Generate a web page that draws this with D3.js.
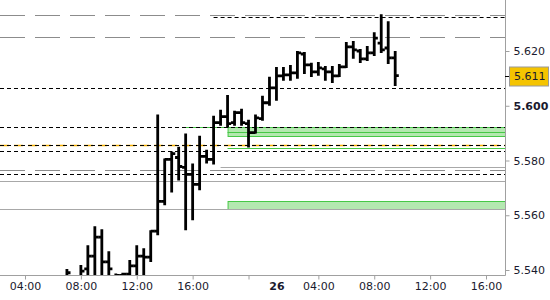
<!DOCTYPE html>
<html>
<head>
<meta charset="utf-8">
<script src="https://cdn.jsdelivr.net/npm/d3@7"></script>
<style>
  body { margin: 0; background: #fff; }
  text { font-family: "DejaVu Sans", Verdana, sans-serif; font-size: 11px; fill: #1a1a2e; }
</style>
</head>
<body>
<svg id="chart" width="550" height="300"></svg>
<script>
// M30 bars, index 0 = 04:00 on the 25th
const barIndex = [6, 7, 8, 9, 10, 11, 12, 13, 14, 15, 16, 17, 18, 19, 20, 21, 22, 23, 24, 25, 26, 27, 28, 29,
  30, 31, 32, 33, 34, 35, 36, 37, 38, 39, 40, 41, 42, 43, 44, 45, 46, 47, 48, 49, 50, 51, 52, 53];
const opens  = [5.5360, 5.5370, 5.5360, 5.5404, 5.5451, 5.5520, 5.5430, 5.5360, 5.5380, 5.5385, 5.5415, 5.5451,
  5.5447, 5.5542, 5.5651, 5.5804, 5.5811, 5.5775, 5.5749, 5.5713, 5.5815, 5.5804, 5.5938, 5.5960,
  5.5938, 5.5975, 5.5935, 5.5902, 5.5953, 5.6011, 5.6065, 5.6109, 5.6113, 5.6120, 5.6189, 5.6149,
  5.6124, 5.6135, 5.6124, 5.6109, 5.6142, 5.6215, 5.6200, 5.6171, 5.6193, 5.6229, 5.6211, 5.6175];
const highs  = [5.5400, 5.5378, 5.5415, 5.5487, 5.5556, 5.5545, 5.5465, 5.5384, 5.5386, 5.5433, 5.5487, 5.5476,
  5.5542, 5.5964, 5.5804, 5.5829, 5.5847, 5.5895, 5.5785, 5.5887, 5.5836, 5.5960, 5.5982, 5.6036,
  5.5978, 5.5985, 5.5945, 5.5964, 5.6033, 5.6102, 5.6138, 5.6138, 5.6145, 5.6196, 5.6193, 5.6153,
  5.6156, 5.6142, 5.6142, 5.6149, 5.6229, 5.6233, 5.6204, 5.6215, 5.6265, 5.6331, 5.6305, 5.6196];
const lows   = [5.5340, 5.5340, 5.5340, 5.5330, 5.5340, 5.5360, 5.5340, 5.5330, 5.5340, 5.5360, 5.5350, 5.5380,
  5.5433, 5.5531, 5.5640, 5.5687, 5.5731, 5.5549, 5.5585, 5.5695, 5.5793, 5.5789, 5.5931, 5.5924,
  5.5931, 5.5931, 5.5851, 5.5902, 5.5949, 5.6004, 5.6022, 5.6095, 5.6095, 5.6102, 5.6120, 5.6109,
  5.6113, 5.6095, 5.6087, 5.6109, 5.6142, 5.6175, 5.6160, 5.6167, 5.6185, 5.6196, 5.6156, 5.6076];
const closes = [5.5390, 5.5350, 5.5396, 5.5451, 5.5520, 5.5430, 5.5404, 5.5380, 5.5385, 5.5415, 5.5451, 5.5447,
  5.5542, 5.5651, 5.5804, 5.5825, 5.5778, 5.5749, 5.5713, 5.5815, 5.5804, 5.5938, 5.5960, 5.5935,
  5.5975, 5.5938, 5.5902, 5.5956, 5.6011, 5.6065, 5.6109, 5.6113, 5.6120, 5.6193, 5.6149, 5.6124,
  5.6138, 5.6124, 5.6109, 5.6142, 5.6215, 5.6204, 5.6171, 5.6193, 5.6247, 5.6204, 5.6175, 5.6110];

const timeTickIndex = [0, 8, 16, 24, 32, 36, 42, 50, 58, 66];
const timeTickLabels = ["04:00", "08:00", "12:00", "16:00", "", "26", "04:00", "08:00", "12:00", "16:00"];
const priceTicks = [5.540, 5.560, 5.580, 5.600, 5.620, 5.640];
const lastPrice = 5.611;

// horizontal levels (null start = from the left edge)
const grayDashLevels = [5.6331, 5.6251, 5.5764];
const grayDashStart  = [null, null, null];
const blackDashLevels = [5.6324, 5.6065, 5.5924, 5.5855, 5.5833, 5.5749];
const blackDashStart  = [27, null, null, null, null, null];
const orangeLevels = [5.5855];
const graySolidLevels = [5.5775, 5.5724, 5.5622];
const graySolidStart  = [28, null, null];
const greenLineLevels = [5.5924, 5.5905, 5.5847];
const greenLineStart  = [23, 29, 29];
const greenZoneTop    = [5.5924, 5.5651];
const greenZoneBottom = [5.5889, 5.5622];
const greenZoneStart  = [29, 29];

const plotR = 505, plotB = 275;
const svg = d3.select("#chart");

const x = d3.scaleLinear().domain([0, 66]).range([25, 486]);
const y = d3.scaleLinear().domain([5.540, 5.620]).range([270, 51]);

svg.append("clipPath").attr("id", "plot")
  .append("rect").attr("x", 0).attr("y", 0).attr("width", plotR).attr("height", plotB);

const plot = svg.append("g").attr("clip-path", "url(#plot)");

const sx = s => s === null ? 0 : x(s);
const py = v => Math.round(y(v)) + 0.5;

function hlines(levels, starts, color, dash, width) {
  plot.append("g").selectAll("line")
    .data(levels)
    .enter()
    .append("line")
    .attr("x1", (d, i) => starts ? sx(starts[i]) : 0)
    .attr("x2", plotR)
    .attr("y1", d => py(d))
    .attr("y2", d => py(d))
    .attr("stroke", color)
    .attr("stroke-width", width || 1)
    .attr("stroke-dasharray", dash);
}

// green zones
plot.append("g").selectAll("rect")
  .data(greenZoneTop)
  .enter()
  .append("rect")
  .attr("x", (d, i) => sx(greenZoneStart[i]) + 0.5)
  .attr("y", d => py(d))
  .attr("width", (d, i) => plotR - sx(greenZoneStart[i]))
  .attr("height", (d, i) => py(greenZoneBottom[i]) - py(d))
  .attr("fill", "#b4e8b0")
  .attr("stroke", "#46c846");

hlines(graySolidLevels, graySolidStart, "#a8a8a8", null);
hlines(grayDashLevels, grayDashStart, "#8c8c8c", "25,10", 1.2);
hlines(greenLineLevels, greenLineStart, "#46c846", null);
hlines(orangeLevels, null, "#f5b000", "9,5", 1.3);
hlines(blackDashLevels, blackDashStart, "#000", "4,3");

// OHLC bars
const bars = barIndex.map((b, i) => ({i: b, o: opens[i], h: highs[i], l: lows[i], c: closes[i]}));
plot.append("g").selectAll("path")
  .data(bars)
  .enter()
  .append("path")
  .attr("d", d => {
    const cx = x(d.i);
    return `M${cx},${y(d.h) - 1}V${y(d.l) + 1}` +
      `M${cx - 3.6},${y(d.o)}H${cx}` +
      `M${cx},${y(d.c)}H${cx + 3.6}`;
  })
  .attr("fill", "none")
  .attr("stroke", "#000")
  .attr("stroke-width", 2.8);

// frame
svg.append("line").attr("x1", plotR + 0.5).attr("x2", plotR + 0.5).attr("y1", 0).attr("y2", plotB + 0.5)
  .attr("stroke", "#a0a0a0");
svg.append("line").attr("x1", 0).attr("x2", plotR + 0.5).attr("y1", plotB + 0.5).attr("y2", plotB + 0.5)
  .attr("stroke", "#a0a0a0");

// price axis
const yAxis = svg.append("g")
  .attr("transform", `translate(${plotR + 0.5},0)`)
  .call(d3.axisRight(y).tickValues(priceTicks).tickFormat(d3.format(".3f")).tickSize(4).tickPadding(4));
yAxis.select(".domain").remove();
yAxis.selectAll(".tick line").attr("stroke", "#a0a0a0");
yAxis.selectAll(".tick text")
  .attr("font-family", null).attr("font-size", null)
  .attr("font-weight", d => d === 5.600 ? "bold" : null);

// time axis
const xAxis = svg.append("g")
  .attr("transform", `translate(0,${plotB + 0.5})`)
  .call(d3.axisBottom(x).tickValues(timeTickIndex)
    .tickFormat((d, i) => timeTickLabels[i]).tickSize(4).tickPadding(3));
xAxis.select(".domain").remove();
xAxis.selectAll(".tick line").attr("stroke", (d, i) => timeTickLabels[i] === "26" ? "none" : "#a0a0a0");
xAxis.selectAll(".tick text")
  .attr("font-family", null).attr("font-size", null)
  .attr("font-weight", (d, i) => timeTickLabels[i] === "26" ? "bold" : null);

// last price marker
svg.append("line").attr("x1", plotR).attr("x2", plotR + 6)
  .attr("y1", py(lastPrice)).attr("y2", py(lastPrice)).attr("stroke", "#000");
svg.append("rect")
  .attr("x", 509.5).attr("y", py(lastPrice) - 9.5)
  .attr("width", 39).attr("height", 19)
  .attr("fill", "#f5c400").attr("stroke", "#9a9a9a");
svg.append("text")
  .attr("x", 514).attr("y", py(lastPrice))
  .attr("dy", "0.35em")
  .text(d3.format(".3f")(lastPrice));
</script>
</body>
</html>
